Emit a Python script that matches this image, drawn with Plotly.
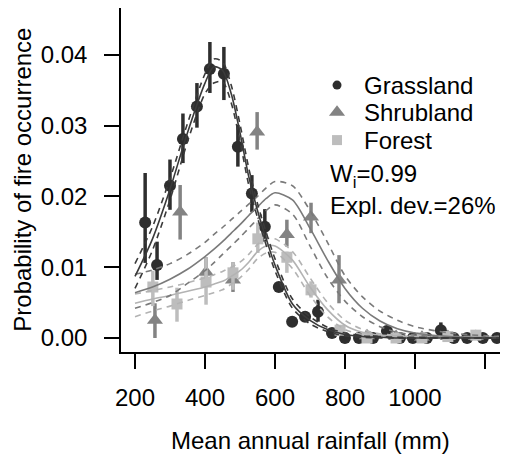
import plotly.graph_objects as go

# ---------------- data ----------------
grass_rain = [229, 263, 300, 337, 377, 414, 454, 494, 534, 571, 611, 649, 686, 723, 763,
              800, 840, 880, 920, 957, 994, 1034, 1074, 1111, 1149, 1194, 1234]
grass_val = [0.0163, 0.0103, 0.0215, 0.0281, 0.0327, 0.0380, 0.0373, 0.0270, 0.0204, 0.0157,
             0.0072, 0.0023, 0.0030, 0.0037, 0.0007, 0.0, 0.0, 0.0, 0.0010, 0.0, 0.0, 0.0,
             0.0011, 0.0, 0.0, 0.0, 0.0]
grass_hi = [0.0233, 0.0136, 0.0252, 0.0317, 0.0360, 0.0418, 0.0411, 0.0301, 0.0230, 0.0182,
            0.0078, 0.0026, 0.0034, 0.0054, 0.0010, 0.0002, 0.0002, 0.0002, 0.0016, 0.0002,
            0.0002, 0.0002, 0.0022, 0.0002, 0.0002, 0.0002, 0.0002]
grass_lo = [0.0106, 0.0082, 0.0181, 0.0247, 0.0297, 0.0346, 0.0336, 0.0242, 0.0178, 0.0136,
            0.0066, 0.0020, 0.0026, 0.0023, 0.0004, 0.0, 0.0, 0.0, 0.0005, 0.0, 0.0, 0.0,
            0.0003, 0.0, 0.0, 0.0, 0.0]

shrub_rain = [257, 329, 403, 480, 549, 634, 703, 783, 863, 946, 1020, 1094, 1174]
shrub_val = [0.0025, 0.0178, 0.0093, 0.0082, 0.0291, 0.0146, 0.0171, 0.0082,
             0.0003, 0.0002, 0.0001, 0.0002, 0.0002]
shrub_hi = [0.0049, 0.0216, 0.0114, 0.0107, 0.0319, 0.0167, 0.0191, 0.0117,
            0.0006, 0.0004, 0.0003, 0.0004, 0.0004]
shrub_lo = [0.0000, 0.0139, 0.0085, 0.0065, 0.0266, 0.0129, 0.0148, 0.0049,
            0.0001, 0.0, 0.0, 0.0, 0.0]

forest_rain = [251, 320, 403, 480, 551, 634, 703, 786, 863, 946, 1020, 1094, 1174]
forest_val = [0.0072, 0.0048, 0.0079, 0.0092, 0.0140, 0.0114, 0.0068, 0.0011,
              0.0, 0.0, 0.0, 0.0002, 0.0004]
forest_hi = [0.0095, 0.0071, 0.0114, 0.0107, 0.0163, 0.0122, 0.0080, 0.0016,
             0.0002, 0.0002, 0.0002, 0.0004, 0.0006]
forest_lo = [0.0045, 0.0023, 0.0047, 0.0068, 0.0120, 0.0092, 0.0057, 0.0006,
             0.0, 0.0, 0.0, 0.0, 0.0002]

# fitted curves
fit_rain = [200, 250, 300, 350, 400, 425, 450, 475, 500, 525, 550, 575, 600, 650, 700,
            750, 800, 850, 900, 950, 1000, 1100, 1240]
grass_fit = [0.0087, 0.0140, 0.0210, 0.0290, 0.0360, 0.0383, 0.0378, 0.0345, 0.0290, 0.0228,
             0.0180, 0.0140, 0.0103, 0.0048, 0.0025, 0.0012, 0.0005, 0.0002, 0.0001, 0.0,
             0.0, 0.0, 0.0]
grass_fit_hi = [0.0105, 0.0157, 0.0225, 0.0303, 0.0373, 0.0394, 0.0390, 0.0357, 0.0302,
                0.0240, 0.0190, 0.0149, 0.0112, 0.0055, 0.0030, 0.0015, 0.0007, 0.0003,
                0.0002, 0.0001, 0.0001, 0.0, 0.0]
grass_fit_lo = [0.0070, 0.0124, 0.0195, 0.0277, 0.0345, 0.0360, 0.0362, 0.0332, 0.0278,
                0.0216, 0.0170, 0.0131, 0.0095, 0.0042, 0.0020, 0.0009, 0.0003, 0.0001,
                0.0, 0.0, 0.0, 0.0, 0.0]
shrub_fit = [0.0064, 0.0072, 0.0083, 0.0097, 0.0115, 0.0125, 0.0136, 0.0148, 0.0160, 0.0173,
             0.0185, 0.0197, 0.0205, 0.0195, 0.0155, 0.0110, 0.0070, 0.0042, 0.0024, 0.0013,
             0.0007, 0.0002, 0.0]
shrub_fit_hi = [0.0090, 0.0096, 0.0105, 0.0118, 0.0135, 0.0146, 0.0156, 0.0167, 0.0178,
                0.0189, 0.0200, 0.0212, 0.0221, 0.0215, 0.0180, 0.0135, 0.0088, 0.0058,
                0.0038, 0.0025, 0.0016, 0.0007, 0.0002]
shrub_fit_lo = [0.0042, 0.0050, 0.0060, 0.0077, 0.0095, 0.0106, 0.0118, 0.0130, 0.0142,
                0.0155, 0.0168, 0.0180, 0.0188, 0.0175, 0.0130, 0.0085, 0.0052, 0.0030,
                0.0016, 0.0008, 0.0004, 0.0001, 0.0]
forest_fit = [0.0049, 0.0055, 0.0060, 0.0066, 0.0072, 0.0076, 0.0080, 0.0087, 0.0095, 0.0107,
              0.0122, 0.0130, 0.0130, 0.0110, 0.0072, 0.0040, 0.0018, 0.0008, 0.0004, 0.0003,
              0.0002, 0.0001, 0.0001]
forest_fit_hi = [0.0062, 0.0067, 0.0072, 0.0078, 0.0085, 0.0089, 0.0094, 0.0100, 0.0107,
                 0.0118, 0.0132, 0.0140, 0.0140, 0.0122, 0.0085, 0.0050, 0.0025, 0.0012,
                 0.0006, 0.0004, 0.0003, 0.0002, 0.0002]
forest_fit_lo = [0.0030, 0.0038, 0.0045, 0.0053, 0.0060, 0.0064, 0.0068, 0.0076, 0.0085,
                 0.0097, 0.0112, 0.0120, 0.0121, 0.0098, 0.0060, 0.0030, 0.0012, 0.0005,
                 0.0002, 0.0001, 0.0001, 0.0, 0.0]

x_ticks = [200, 400, 600, 800, 1000]
x_tick_text = ["200", "400", "600", "800", "1000"]
x_unlabelled_ticks = [1200]
y_ticks = [0.00, 0.01, 0.02, 0.03, 0.04]
y_tick_text = ["0.00", "0.01", "0.02", "0.03", "0.04"]
legend_names = ["Grassland", "Shrubland", "Forest"]

# ---------------- style ----------------
FONT = "Liberation Sans, Arial, sans-serif"
C_G, C_S, C_F = "#2e2e2e", "#838383", "#bdbdbd"
L_G, L_S, L_F = "#3a3a3a", "#7a7a7a", "#b3b3b3"

fig = go.Figure()


def points(x, y, hi, lo, color, symbol, size):
    fig.add_trace(go.Scatter(
        x=x, y=y, mode="markers", showlegend=False,
        marker=dict(color=color, symbol=symbol, size=size, line=dict(width=0)),
        error_y=dict(type="data", symmetric=False,
                     array=[h - v for h, v in zip(hi, y)],
                     arrayminus=[v - l for v, l in zip(y, lo)],
                     color=color, thickness=3.5, width=0),
    ))


points(grass_rain, grass_val, grass_hi, grass_lo, C_G, "circle", 12)
points(shrub_rain, shrub_val, shrub_hi, shrub_lo, C_S, "triangle-up", 14)
points(forest_rain, forest_val, forest_hi, forest_lo, C_F, "square", 11)


def curve(y, color, dash):
    fig.add_trace(go.Scatter(
        x=fit_rain, y=y, mode="lines", showlegend=False,
        line=dict(color=color, width=1.6, dash=dash, shape="spline", smoothing=0.8),
    ))


for fit, hi, lo, col in [(forest_fit, forest_fit_hi, forest_fit_lo, L_F),
                         (shrub_fit, shrub_fit_hi, shrub_fit_lo, L_S),
                         (grass_fit, grass_fit_hi, grass_fit_lo, L_G)]:
    curve(hi, col, "6px,5px")
    curve(lo, col, "6px,5px")
    curve(fit, col, "solid")

# legend keys on an overlay axis (0..1 of the plot area)
leg_syms = [("circle", C_G, 9), ("triangle-up", C_S, 14), ("square", C_F, 10)]
leg_y = [0.776, 0.697, 0.616]
for (sym, col, sz), yy in zip(leg_syms, leg_y):
    fig.add_trace(go.Scatter(x=[0.57], y=[yy], mode="markers", showlegend=False,
                             xaxis="x2", yaxis="y2",
                             marker=dict(symbol=sym, color=col, size=sz)))

txt_font = dict(family=FONT, size=24, color="black")
annotations = []
for name, yy in zip(legend_names, leg_y):
    annotations.append(dict(xref="x2", yref="y2", x=0.635, y=yy, text=name,
                            showarrow=False, xanchor="left", yanchor="middle",
                            height=26, font=txt_font))
annotations.append(dict(xref="x2", yref="y2", x=0.546, y=0.512, text="W<sub>i</sub>=0.99",
                        showarrow=False, xanchor="left", yanchor="middle", height=24,
                        font=txt_font))
annotations.append(dict(xref="x2", yref="y2", x=0.546, y=0.427, text="Expl. dev.=26%",
                        showarrow=False, xanchor="left", yanchor="middle", height=24,
                        font=txt_font))
annotations.append(dict(xref="paper", yref="paper", x=0.5, y=-0.257,
                        text="Mean annual rainfall (mm)", showarrow=False,
                        xanchor="center", yanchor="middle", font=txt_font))
annotations.append(dict(xref="paper", yref="paper", x=-0.262, y=0.5,
                        text="Probability of fire occurrence", showarrow=False, textangle=-90,
                        xanchor="center", yanchor="middle", font=txt_font))

# page body has an 8px margin, so plot-area margins are offset accordingly
fig.update_layout(
    width=510, height=460,
    margin=dict(l=113, r=18, t=0, b=116),
    paper_bgcolor="white", plot_bgcolor="white",
    showlegend=False,
    font=txt_font,
    xaxis=dict(range=[160, 1243], tickvals=x_ticks, ticktext=x_tick_text,
               ticks="outside", ticklen=15, tickwidth=1.5, tickcolor="black",
               minor=dict(tickvals=x_unlabelled_ticks, ticks="outside", ticklen=15,
                          tickwidth=1.5, tickcolor="black", showgrid=False),
               showline=True, linecolor="black", linewidth=1.5, mirror=False,
               showgrid=False, zeroline=False, ticklabelstandoff=8,
               tickfont=txt_font),
    yaxis=dict(range=[-0.00198, 0.0466], tickvals=y_ticks, ticktext=y_tick_text,
               ticks="outside", ticklen=15, tickwidth=1.5, tickcolor="black",
               showline=True, linecolor="black", linewidth=1.5, mirror=False,
               showgrid=False, zeroline=False, ticklabelstandoff=12,
               tickfont=txt_font),
    xaxis2=dict(range=[0, 1], overlaying="x", visible=False, fixedrange=True),
    yaxis2=dict(range=[0, 1], overlaying="y", visible=False, fixedrange=True),
    annotations=annotations,
)

fig.write_html("out.html")
